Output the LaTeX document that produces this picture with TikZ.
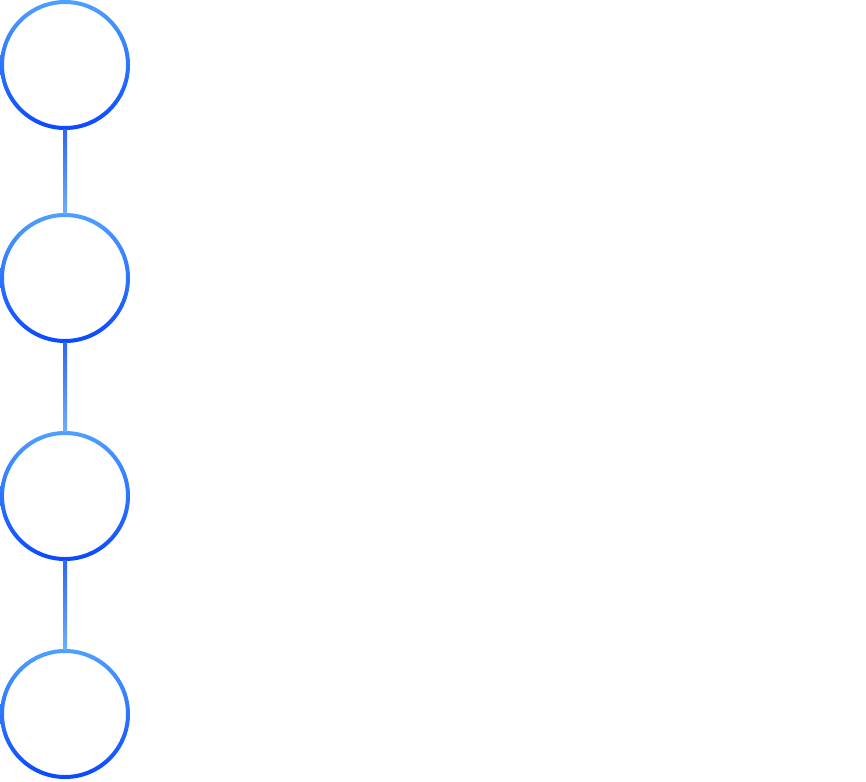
\documentclass[tikz,border=0pt]{standalone}
\usetikzlibrary{calc}
\definecolor{ringTop}{HTML}{4FA0FF}
\definecolor{ringBot}{HTML}{0A48FF}
\definecolor{lineTop}{HTML}{2F68F2}
\definecolor{lineBot}{HTML}{6AAEFF}
\tikzset{
  stepnode/.style={circle, inner sep=0pt, minimum size=126pt},
  ringshade/.style={top color=ringTop, bottom color=ringBot, even odd rule},
  linkshade/.style={top color=lineTop, bottom color=lineBot}
}
\begin{document}
\begin{tikzpicture}[x=1pt,y=-1pt]
        \useasboundingbox (0,0) rectangle (866,781);
        % steps
        \foreach \n/\y in {1/65,2/278,3/496,4/714} {
          \node[stepnode] (s\n) at (65,\y) {};
          \shade[ringshade] (s\n.center) circle (65pt) (s\n.center) circle (61pt);
        }
        % links
        \foreach \a/\b in {1/2,2/3,3/4} {
          \shade[linkshade] ($(s\a.south)+(-2pt,-1pt)$) rectangle ($(s\b.north)+(2pt,1pt)$);
        }
    \end{tikzpicture}
\end{document}
